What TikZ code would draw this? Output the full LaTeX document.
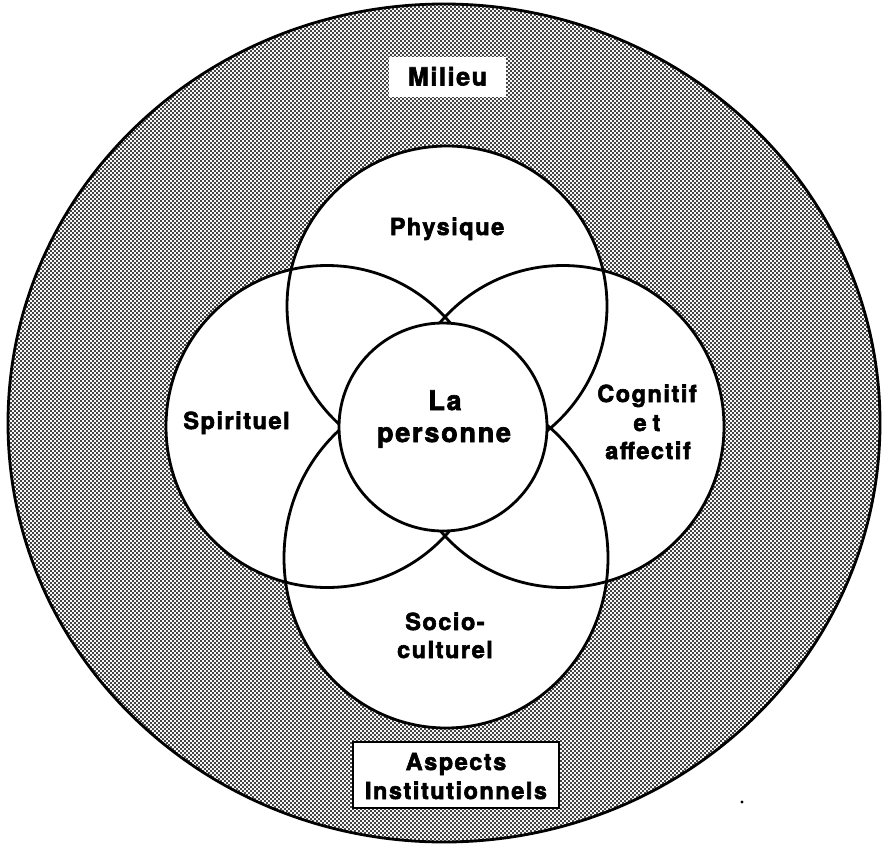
\documentclass[tikz,border=0pt]{standalone}
\usepackage{fontspec}
\setmainfont{TeX Gyre Heros}
\newfontfamily\lblfont[LetterSpace=6.5, BoldFeatures={FakeBold=2.5}]{TeX Gyre Heros}
\usetikzlibrary{patterns}
% fine halftone screen for the surrounding ring
\pgfdeclarepatternformonly{halftone}{\pgfqpoint{-0.5pt}{-0.5pt}}{\pgfqpoint{4.5pt}{4.5pt}}{\pgfqpoint{4pt}{4pt}}{%
  \pgfpathcircle{\pgfqpoint{1pt}{1pt}}{1.02pt}%
  \pgfpathcircle{\pgfqpoint{3pt}{3pt}}{1.02pt}%
  \pgfusepath{fill}}
\begin{document}
\begin{tikzpicture}[x=1pt,y=-1pt,
  outline/.style={line width=2.8pt, draw=black},
  lab/.style={font=\lblfont\bfseries\fontsize{23.5}{28}\selectfont, inner sep=0pt, anchor=base},
  biglab/.style={font=\lblfont\bfseries\fontsize{27}{32}\selectfont, inner sep=0pt, anchor=base},
  milab/.style={font=\lblfont\bfseries\fontsize{25}{30}\selectfont, inner sep=0pt, anchor=base}]
\useasboundingbox (0,0) rectangle (882,846);

% surrounding environment
\draw[outline, pattern=halftone, pattern color=black]
  (444,423) ellipse [x radius=436pt, y radius=419pt];

% white interiors of the four dimensions
\fill[white] (447,306) circle [radius=160pt];
\fill[white] (327,426.5) circle [radius=161pt];
\fill[white] (563,426.5) circle [radius=161pt];
\fill[white] (446,558) ellipse [x radius=162pt, y radius=170pt];

% outlines of the four dimensions
\draw[outline] (447,306) circle [radius=160pt];
\draw[outline] (327,426.5) circle [radius=161pt];
\draw[outline] (563,426.5) circle [radius=161pt];
\draw[outline] (446,558) ellipse [x radius=162pt, y radius=170pt];

% the person at the centre
\draw[outline, fill=white] (443,427) circle [radius=104pt];

% labels
\node[lab] (phys) at (447,235) {Physique};
\node[lab] (spir) at (236.5,429) {Spirituel};
\node[biglab] (la) at (445,410) {La};
\node[biglab] (pers) at (444,442) {personne};
\node[lab] (cogn) at (647,402) {Cognitif};
\node[lab] (et) at (647,431) {e\hspace{6pt}t};
\node[lab] (affe) at (648,459) {affectif};
\node[lab] (soc1) at (445,630) {Socio-};
\node[lab] (soc2) at (445,658) {culturel};

% environment label
\node[fill=white, minimum width=117pt, minimum height=40pt, inner sep=0pt] (milbox) at (447.5,77) {};
\node[milab] (mil) at (milbox.center) [yshift=-8.5pt] {Milieu};

% institutional aspects
\node[draw, line width=2.2pt, fill=white, minimum width=206pt, minimum height=66pt, inner sep=0pt] (aspbox) at (456,775) {};
\node[lab] (asp1) at (456,770) {Aspects};
\node[lab] (asp2) at (456,799) {Institutionnels};

% small speck in the margin
\fill (742,802) circle [radius=1.6pt];
\end{tikzpicture}
\end{document}
